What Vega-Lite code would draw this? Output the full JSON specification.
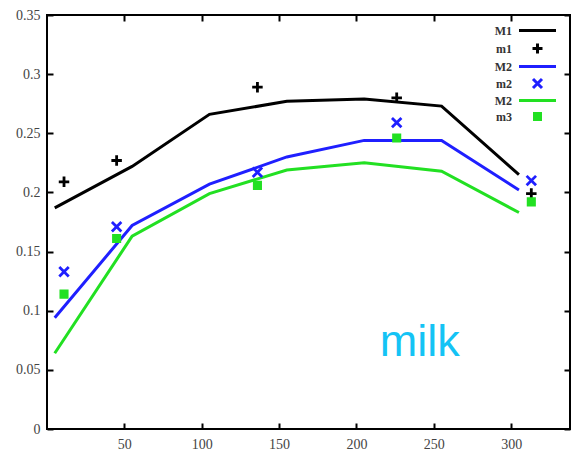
{
  "$schema": "https://vega.github.io/schema/vega-lite/v6.json",
  "width": 523,
  "height": 414,
  "autosize": {"type": "none"},
  "padding": {"left": 47, "top": 15, "right": 1, "bottom": 21},
  "background": "white",
  "config": {
    "view": {"stroke": "#000", "strokeWidth": 2},
    "axis": {
      "domain": false,
      "grid": false,
      "tickColor": "#000",
      "tickWidth": 2,
      "tickSize": -6,
      "labelFont": "Liberation Serif",
      "labelFontSize": 14,
      "labelColor": "#444",
      "title": null
    }
  },
  "resolve": {"axis": {"x": "independent", "y": "independent"}},
  "datasets": {
    "lines": [
      {"x": 5, "y": 0.187, "series": "M1"},
      {"x": 55, "y": 0.222, "series": "M1"},
      {"x": 105, "y": 0.266, "series": "M1"},
      {"x": 155, "y": 0.277, "series": "M1"},
      {"x": 205, "y": 0.279, "series": "M1"},
      {"x": 255, "y": 0.273, "series": "M1"},
      {"x": 305, "y": 0.215, "series": "M1"},
      {"x": 5, "y": 0.094, "series": "M2a"},
      {"x": 55, "y": 0.172, "series": "M2a"},
      {"x": 105, "y": 0.207, "series": "M2a"},
      {"x": 155, "y": 0.230, "series": "M2a"},
      {"x": 205, "y": 0.244, "series": "M2a"},
      {"x": 255, "y": 0.244, "series": "M2a"},
      {"x": 305, "y": 0.202, "series": "M2a"},
      {"x": 5, "y": 0.064, "series": "M2b"},
      {"x": 55, "y": 0.163, "series": "M2b"},
      {"x": 105, "y": 0.199, "series": "M2b"},
      {"x": 155, "y": 0.219, "series": "M2b"},
      {"x": 205, "y": 0.225, "series": "M2b"},
      {"x": 255, "y": 0.218, "series": "M2b"},
      {"x": 305, "y": 0.183, "series": "M2b"}
    ],
    "points": [
      {"x": 11, "y": 0.209, "series": "m1"},
      {"x": 45, "y": 0.227, "series": "m1"},
      {"x": 136, "y": 0.289, "series": "m1"},
      {"x": 226, "y": 0.280, "series": "m1"},
      {"x": 313, "y": 0.199, "series": "m1"},
      {"x": 11, "y": 0.133, "series": "m2"},
      {"x": 45, "y": 0.171, "series": "m2"},
      {"x": 136, "y": 0.217, "series": "m2"},
      {"x": 226, "y": 0.259, "series": "m2"},
      {"x": 313, "y": 0.210, "series": "m2"},
      {"x": 11, "y": 0.114, "series": "m3"},
      {"x": 45, "y": 0.161, "series": "m3"},
      {"x": 136, "y": 0.206, "series": "m3"},
      {"x": 226, "y": 0.246, "series": "m3"},
      {"x": 313, "y": 0.192, "series": "m3"}
    ],
    "label": [{"x": 215, "y": 0.062, "text": "milk"}]
  },
  "layer": [
    {
      "data": {"name": "lines"},
      "mark": {"type": "line", "strokeWidth": 3},
      "encoding": {
        "x": {"field": "x", "type": "quantitative", "scale": {"domain": [0, 338], "nice": false, "zero": false}, "axis": {"orient": "bottom", "values": [50, 100, 150, 200, 250, 300], "ticks": false, "labelPadding": 8}},
        "y": {"field": "y", "type": "quantitative", "scale": {"domain": [0, 0.35], "nice": false}, "axis": {"orient": "left", "values": [0, 0.05, 0.1, 0.15, 0.2, 0.25, 0.3, 0.35], "ticks": false, "format": ".2~f", "labelPadding": 7}},
        "color": {
          "field": "series", "type": "nominal",
          "scale": {"domain": ["M1", "m1", "M2a", "m2", "M2b", "m3"], "range": ["#000000", "#000000", "#1f1fff", "#1f1fff", "#22e022", "#22e022"]},
          "legend": {
            "title": null,
            "orient": "none",
            "legendX": 484,
            "legendY": 9,
            "labelExpr": "slice(datum.label, 0, 2)",
            "labelFont": "Liberation Serif",
            "labelFontSize": 12,
            "labelFontWeight": "bold",
            "labelColor": "#333",
            "labelAlign": "right",
            "labelOffset": -32,
            "symbolSize": 100,
            "symbolStrokeWidth": 3,
            "symbolFillColor": "transparent",
            "rowPadding": 0,
            "padding": 0,
            "encode": {
              "symbols": {"update": {"fill": {"signal": "datum.value === 'm3' ? '#22e022' : 'transparent'"}}}
            }
          }
        },
        "shape": {
          "field": "series", "type": "nominal",
          "scale": {"domain": ["M1", "m1", "M2a", "m2", "M2b", "m3"], "range": ["M-3.7,0H3.7", "M-1,0H1M0,-1V1", "M-3.7,0H3.7", "M-0.9,-0.9L0.9,0.9M-0.9,0.9L0.9,-0.9", "M-3.7,0H3.7", "M-0.6,-0.6H0.6V0.6H-0.6Z"]},
          "legend": null
        }
      }
    },
    {
      "data": {"name": "points"},
      "mark": {"type": "point", "filled": false, "strokeWidth": 2.8, "size": 110, "opacity": 1},
      "encoding": {
        "x": {"field": "x", "type": "quantitative", "axis": {"orient": "bottom", "values": [50, 100, 150, 200, 250, 300], "labels": false, "ticks": true, "tickSize": 6, "offset": -6}},
        "y": {"field": "y", "type": "quantitative", "axis": {"orient": "left", "values": [0, 0.05, 0.1, 0.15, 0.2, 0.25, 0.3, 0.35], "labels": false, "ticks": true, "tickSize": 6, "offset": -6}},
        "color": {"field": "series", "type": "nominal"},
        "shape": {"field": "series", "type": "nominal"},
        "fill": {"condition": {"test": "datum.series === 'm3'", "value": "#22e022"}, "value": "transparent"}
      }
    },
    {
      "data": {"name": "label"},
      "mark": {"type": "text", "align": "left", "baseline": "alphabetic", "font": "Liberation Sans", "fontSize": 45, "color": "#14c3f5"},
      "encoding": {
        "x": {"field": "x", "type": "quantitative", "axis": {"orient": "top", "values": [50, 100, 150, 200, 250, 300], "labels": false}},
        "y": {"field": "y", "type": "quantitative", "axis": {"orient": "right", "values": [0, 0.05, 0.1, 0.15, 0.2, 0.25, 0.3, 0.35], "labels": false}},
        "text": {"field": "text"}
      }
    }
  ]
}
